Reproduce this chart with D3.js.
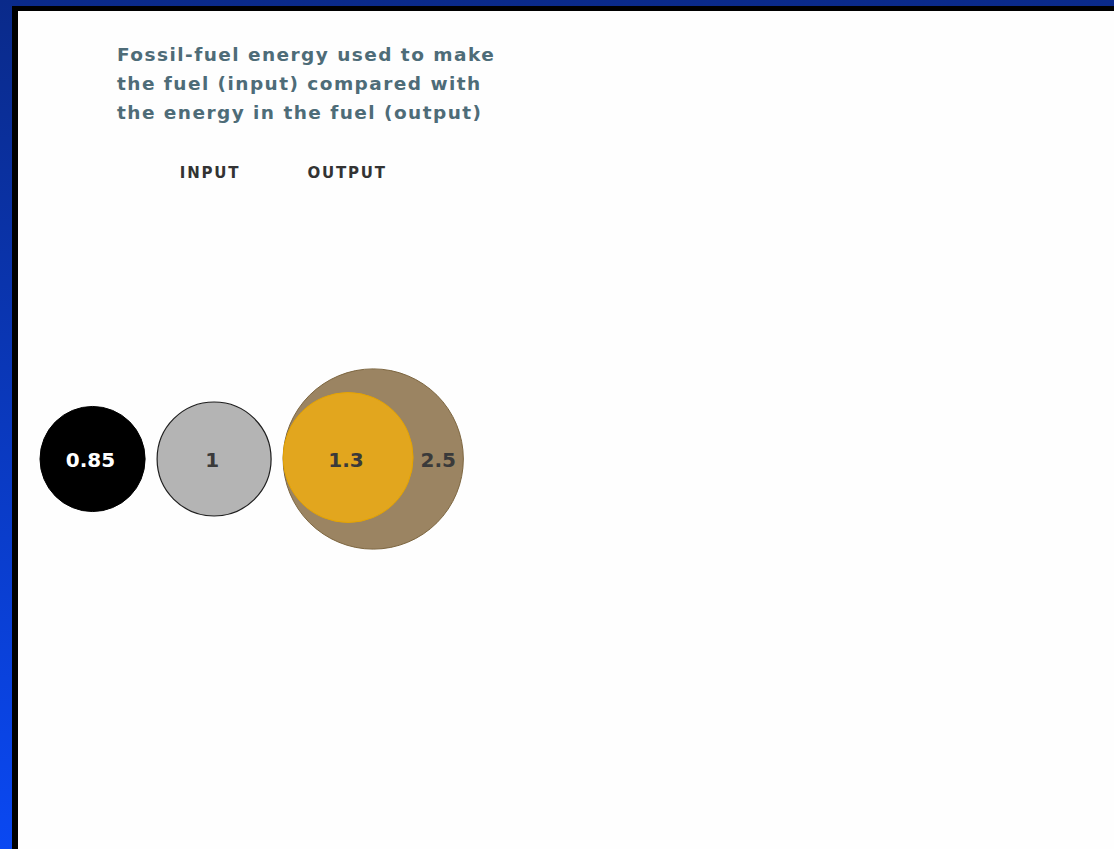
<!DOCTYPE html>
<html>
<head>
<meta charset="utf-8">
<script src="https://cdn.jsdelivr.net/npm/d3@7"></script>
<style>
  html, body { margin: 0; padding: 0; }
  body { width: 1114px; height: 849px; overflow: hidden;
         background: linear-gradient(#0a2a8a, #0a48f2); }
  svg { display: block; }
</style>
</head>
<body>
<div id="chart"></div>
<script>
// heading + column headers
var titleLines = [
  'Fossil-fuel energy used to make',
  'the fuel (input) compared with',
  'the energy in the fuel (output)'
];
var columnHeaders = ['INPUT', 'OUTPUT'];

// circles, values are the energy ratios
var circleNames = ['reference', 'input', 'outputLow', 'outputHigh'];
var circleValues = [0.85, 1, 1.3, 2.5];
var circleLabels = ['0.85', '1', '1.3', '2.5'];

var W = 1114, H = 849;
var fontFam = '"DejaVu Sans", Verdana, sans-serif';

var styles = {
  reference:  {fill: '#000000', stroke: '#000000', text: '#ffffff'},
  input:      {fill: '#b4b4b4', stroke: '#1e1e1e', text: '#3a3a3a'},
  outputLow:  {fill: '#e2a61e', stroke: '#e6a400', text: '#3a3a3a'},
  outputHigh: {fill: '#9b8462', stroke: '#7d6640', text: '#3a3a3a'}
};

var svg = d3.select('#chart').append('svg')
    .attr('width', W)
    .attr('height', H);

// frame: black rule then the white panel
svg.append('rect')
    .attr('x', 12).attr('y', 6)
    .attr('width', W - 12).attr('height', H - 6)
    .attr('fill', '#000');
svg.append('rect')
    .attr('x', 18).attr('y', 11)
    .attr('width', W - 18).attr('height', H - 11)
    .attr('fill', '#fefefe');

svg.append('g')
    .selectAll('text')
    .data(titleLines)
    .enter().append('text')
        .attr('x', 117)
        .attr('y', function (d, i) { return 61 + i * 29; })
        .attr('font-family', fontFam)
        .attr('font-weight', 'bold')
        .attr('font-size', '18.5px')
        .attr('letter-spacing', '1.45px')
        .attr('fill', '#4e6c78')
        .text(function (d) { return d; });

// area-proportional radius
var r = d3.scaleSqrt().domain([0, 1]).range([0, 57]);

var cy = 459, gap = 12, left0 = 40;

// lay the circles out left to right, the small output sits inside the big one
var pos = {};
var cursor = left0;
['reference', 'input', 'outputHigh'].forEach(function (n) {
  var rad = r(circleValues[circleNames.indexOf(n)]);
  pos[n] = cursor + rad;
  cursor += 2 * rad + gap;
});
var bigLeft = pos.outputHigh - r(2.5);
pos.outputLow = bigLeft + r(1.3);

var nodes = circleNames.map(function (n, i) {
  return {name: n, value: circleValues[i], label: circleLabels[i], cx: pos[n], rad: r(circleValues[i])};
});

var drawOrder = ['reference', 'input', 'outputHigh', 'outputLow'];
var g = svg.append('g');
g.selectAll('circle')
    .data(drawOrder.map(function (n) { return nodes[circleNames.indexOf(n)]; }))
    .enter().append('circle')
        .attr('cx', function (d) { return d.cx; })
        .attr('cy', function (d) { return d.name === 'outputLow' ? cy - 1.5 : cy; })
        .attr('r', function (d) { return d.rad; })
        .attr('fill', function (d) { return styles[d.name].fill; })
        .attr('stroke', function (d) { return styles[d.name].stroke; })
        .attr('stroke-width', function (d) { return d.name === 'input' ? 1.2 : 1; });

// labels; the big circle's number goes in its visible crescent
g.selectAll('text')
    .data(nodes)
    .enter().append('text')
        .attr('x', function (d) {
          if (d.name === 'outputHigh') {
            var lowRight = pos.outputLow + r(1.3);
            return (lowRight + d.cx + d.rad) / 2;
          }
          return d.cx - 2;
        })
        .attr('y', cy + 8)
        .attr('text-anchor', 'middle')
        .attr('font-family', fontFam)
        .attr('font-weight', 'bold')
        .attr('font-size', '20px')
        .attr('fill', function (d) { return styles[d.name].text; })
        .text(function (d) { return d.label; });

// column headers over input and the small output circle
var headerX = [pos.input - 4, pos.outputLow - 1];
svg.append('g')
    .selectAll('text')
    .data(columnHeaders)
    .enter().append('text')
        .attr('x', function (d, i) { return headerX[i]; })
        .attr('y', 178)
        .attr('text-anchor', 'middle')
        .attr('font-family', fontFam)
        .attr('font-weight', 'bold')
        .attr('font-size', '15px')
        .attr('letter-spacing', '1.8px')
        .attr('fill', '#333')
        .text(function (d) { return d; });
</script>
</body>
</html>
